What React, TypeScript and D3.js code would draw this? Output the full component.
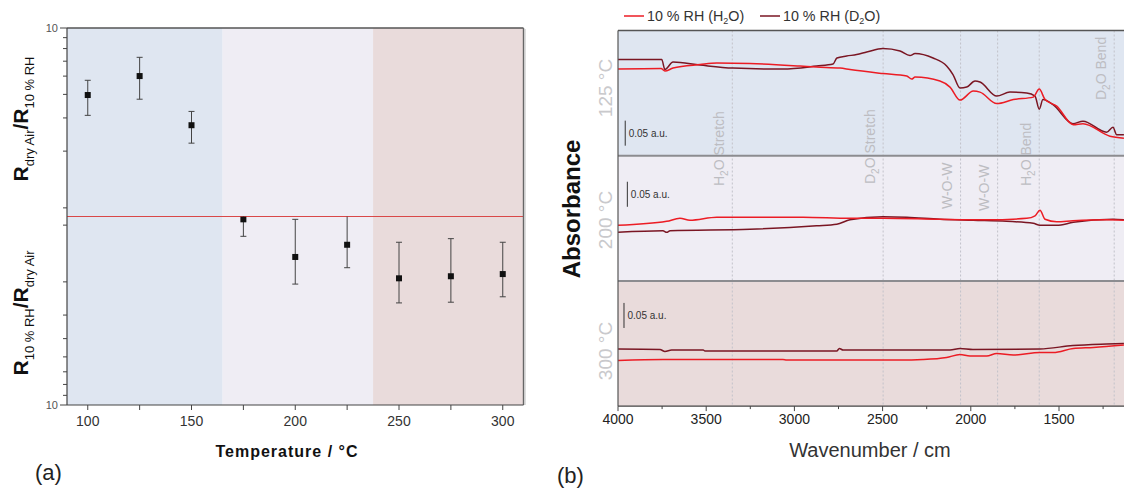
import React from "react";
import * as d3 from "d3";

// ---------- Panel (a) data ----------
const temperatures = [100, 125, 150, 175, 200, 225, 250, 275, 300];
const ratioValues = [4.41, 5.56, 3.05, 0.966, 0.61, 0.708, 0.47, 0.482, 0.495];
const ratioHigh = [5.28, 6.99, 3.61, 1.19, 0.966, 1.02, 0.73, 0.763, 0.73];
const ratioLow = [3.44, 4.19, 2.45, 0.785, 0.438, 0.535, 0.348, 0.351, 0.375];
const regionBounds = [90, 165, 237.5, 310];
const xTicksMajorA = [100, 150, 200, 250, 300];
const xTicksMinorA = [125, 175, 225, 275];
const yTickMultipliers = [1, 2, 3, 4, 5, 6, 7, 8];

// ---------- Panel (b) data ----------
const panelTemps = ["125 °C", "200 °C", "300 °C"];
const h2o125: [number, number][] = [
  [4000, 0.173], [3756, 0.174], [3734, 0.169], [3688, 0.175], [3535, 0.182], [3440, 0.185],
  [3252, 0.184], [2968, 0.179], [2874, 0.177], [2741, 0.175], [2685, 0.172], [2498, 0.164],
  [2363, 0.159], [2335, 0.153], [2316, 0.157], [2175, 0.149], [2118, 0.137], [2061, 0.111],
  [1986, 0.129], [1948, 0.127], [1853, 0.104], [1759, 0.112], [1646, 0.117], [1612, 0.133],
  [1579, 0.112], [1513, 0.099], [1419, 0.062], [1364, 0.064], [1211, 0.039], [1132, 0.035],
];
const d2o125: [number, number][] = [
  [4000, 0.192], [3752, 0.192], [3734, 0.172], [3688, 0.187], [3535, 0.181], [3348, 0.175],
  [3065, 0.173], [2874, 0.179], [2781, 0.183], [2759, 0.195], [2704, 0.199], [2647, 0.202],
  [2590, 0.207], [2498, 0.214], [2401, 0.209], [2345, 0.2], [2316, 0.204], [2214, 0.195],
  [2137, 0.179], [2101, 0.162], [2061, 0.135], [2023, 0.137], [1976, 0.149], [1948, 0.147],
  [1853, 0.119], [1778, 0.127], [1683, 0.125], [1636, 0.119], [1612, 0.093], [1591, 0.112],
  [1534, 0.102], [1421, 0.064], [1364, 0.069], [1230, 0.047], [1194, 0.057], [1173, 0.042],
  [1132, 0.042],
];
const h2o200: [number, number][] = [
  [4000, 0.111], [3724, 0.119], [3649, 0.125], [3592, 0.121], [3440, 0.127], [2951, 0.127],
  [2685, 0.125], [2498, 0.125], [2175, 0.123], [1910, 0.122], [1683, 0.125], [1636, 0.13],
  [1608, 0.141], [1579, 0.123], [1513, 0.118], [1421, 0.12], [1230, 0.122], [1132, 0.121],
];
const d2o200: [number, number][] = [
  [4000, 0.097], [3745, 0.1], [3724, 0.097], [3705, 0.1], [3252, 0.103], [2874, 0.11],
  [2760, 0.113], [2685, 0.122], [2498, 0.128], [2363, 0.127], [2175, 0.123], [1986, 0.121],
  [1797, 0.119], [1646, 0.115], [1608, 0.111], [1513, 0.111], [1419, 0.117], [1194, 0.123],
  [1132, 0.122],
];
const h2o300: [number, number][] = [
  [4000, 0.091], [3745, 0.093], [3065, 0.093], [3044, 0.092], [2401, 0.092], [2271, 0.093],
  [2137, 0.097], [2061, 0.103], [2005, 0.1], [1910, 0.1], [1853, 0.105], [1759, 0.102],
  [1608, 0.107], [1532, 0.107], [1419, 0.115], [1305, 0.117], [1132, 0.122],
];
const d2o300: [number, number][] = [
  [4000, 0.114], [3762, 0.113], [3734, 0.109], [3696, 0.112], [3517, 0.112], [3507, 0.11],
  [2760, 0.11], [2745, 0.115], [2724, 0.112], [2553, 0.112], [2118, 0.112], [2061, 0.115],
  [1988, 0.113], [1608, 0.114], [1421, 0.121], [1230, 0.124], [1132, 0.125],
];
const h2oSeries = [h2o125, h2o200, h2o300];
const d2oSeries = [d2o125, d2o200, d2o300];
const bandWavenumbers = [3352, 2497, 2058, 1848, 1612, 1187];
const bandPre = ["H", "D", "W-O-W", "W-O-W", "H", "D"];
const bandSub = ["2", "2", "", "", "2", "2"];
const bandPost = ["O Stretch", "O Stretch", "", "", "O Bend", "O Bend"];
const xTicksMajorB = [4000, 3500, 3000, 2500, 2000, 1500];
const xTicksMinorB = [3750, 3250, 2750, 2250, 1750, 1250];
const legendLabels = ["H", "D"];

// ---------- Layout / style ----------
const FONT = "Liberation Sans, Arial, Helvetica, sans-serif";
const BG = ["#dfe6f1", "#efedf4", "#e9dbdb"];
const RED = "#ec1c24";
const DARK = "#7a1623";
const A = { left: 67, right: 523.5, top: 28, bottom: 405 };
const B = { left: 618, top: 30.5, panelH: 125.2 };
const bandLabelBottom = [186, 184, 209, 211, 186, 100];
const tempLabelCenter = [88, 220, 351];
const legendX = [624, 760];
const scaleBarPos = [
  { wn: 3959, a: 0.02 },
  { wn: 3947, a: 0.148 },
  { wn: 3966, a: 0.156 },
];

export default function App() {
  // panel (a) scales
  const xA = d3.scaleLinear().domain([90, 310]).range([A.left, A.right]);
  const yA = d3.scaleLog().domain([0.1, 10]).range([A.bottom, A.top]);
  const midY = yA(1);

  // panel (b) scales
  const xB = d3.scaleLinear().domain([4000, 1000]).range([B.left, B.left + 3000 * 0.1764]);
  const panelScales = [0, 1, 2].map((i) =>
    d3
      .scaleLinear()
      .domain([0, 0.25])
      .range([B.top + (i + 1) * B.panelH, B.top + i * B.panelH])
  );
  const bBottom = B.top + 3 * B.panelH;
  const W = 1124;

  const yTicks = [
    ...yTickMultipliers.map((k) => (10 / 9) * k),
    ...yTickMultipliers.map((k) => 0.9 / k),
  ];

  return (
    <svg
      width={1124}
      height={488}
      style={{ position: "absolute", left: 0, top: 0, background: "#fff" }}
      fontFamily={FONT}
    >
      <defs>
        <clipPath id="clipTop">
          <rect x={A.left} y={A.top} width={A.right - A.left} height={midY - A.top} />
        </clipPath>
        <clipPath id="clipBottom">
          <rect x={A.left} y={midY} width={A.right - A.left} height={A.bottom - midY} />
        </clipPath>
        <clipPath id="clipB">
          <rect x={B.left} y={B.top} width={W - B.left} height={bBottom - B.top} />
        </clipPath>
      </defs>

      {/* ================= Panel (a) ================= */}
      {BG.map((c, i) => (
        <rect
          key={i}
          x={xA(regionBounds[i])}
          y={A.top}
          width={xA(regionBounds[i + 1]) - xA(regionBounds[i])}
          height={A.bottom - A.top}
          fill={c}
        />
      ))}
      <line x1={A.left} x2={A.right} y1={midY} y2={midY} stroke="#d94848" strokeWidth={1.2} />
      {/* frame */}
      <line x1={A.left} x2={A.right} y1={A.top} y2={A.top} stroke="#555" strokeWidth={1.4} />
      <line x1={A.right} x2={A.right} y1={A.top} y2={A.bottom} stroke="#666" strokeWidth={1.4} />
      <line x1={A.right + 1.5} x2={A.right + 1.5} y1={A.top + 1} y2={A.bottom} stroke="#bbb" strokeWidth={1} />
      <line x1={A.left} x2={A.left} y1={A.top} y2={A.bottom} stroke="#444" strokeWidth={1.2} />
      <line x1={A.left} x2={A.right} y1={A.bottom} y2={A.bottom} stroke="#444" strokeWidth={1.2} />
      {/* y ticks */}
      {[10, 0.1].map((v) => (
        <g key={v}>
          <line x1={A.left - 7} x2={A.left} y1={yA(v)} y2={yA(v)} stroke="#444" />
          <text x={A.left - 9} y={yA(v) + 4} fontSize={11} fill="#555" textAnchor="end">
            10
          </text>
        </g>
      ))}
      {yTicks.map((v, i) => (
        <line key={i} x1={A.left - 4} x2={A.left} y1={yA(v)} y2={yA(v)} stroke="#444" />
      ))}
      {/* x ticks */}
      {[...xTicksMajorA, ...xTicksMinorA].map((t) => (
        <line key={t} x1={xA(t)} x2={xA(t)} y1={A.bottom} y2={A.bottom + 5} stroke="#444" />
      ))}
      {xTicksMajorA.map((t) => (
        <text key={t} x={xA(t)} y={425.5} fontSize={14} fill="#333" textAnchor="middle">
          {t}
        </text>
      ))}
      {/* points & error bars */}
      {temperatures.map((t, i) => {
        const cx = xA(t);
        const clip = ratioValues[i] >= 1 ? "url(#clipTop)" : "url(#clipBottom)";
        const yh = yA(ratioHigh[i]);
        const yl = yA(ratioLow[i]);
        return (
          <g key={t} clipPath={clip}>
            <line x1={cx} x2={cx} y1={yh} y2={yl} stroke="#444" strokeWidth={1} />
            <line x1={cx - 3} x2={cx + 3} y1={yh} y2={yh} stroke="#444" strokeWidth={1} />
            <line x1={cx - 3} x2={cx + 3} y1={yl} y2={yl} stroke="#444" strokeWidth={1} />
            <rect x={cx - 3} y={yA(ratioValues[i]) - 3} width={6} height={6} fill="#111" />
          </g>
        );
      })}
      {/* axis titles */}
      <text x={287} y={457} fontSize={16} fontWeight="bold" fill="#111" textAnchor="middle" letterSpacing={1}>
        Temperature / °C
      </text>
      <text transform={`translate(28, 119) rotate(-90)`} textAnchor="middle" fill="#111">
        <tspan fontSize={21} fontWeight="bold">R</tspan>
        <tspan fontSize={13} dy={6}>dry Air</tspan>
        <tspan fontSize={21} fontWeight="bold" dy={-6}>/R</tspan>
        <tspan fontSize={13} dy={6}>10 % RH</tspan>
      </text>
      <text transform={`translate(28, 313) rotate(-90)`} textAnchor="middle" fill="#111">
        <tspan fontSize={21} fontWeight="bold">R</tspan>
        <tspan fontSize={13} dy={6}>10 % RH</tspan>
        <tspan fontSize={21} fontWeight="bold" dy={-6}>/R</tspan>
        <tspan fontSize={13} dy={6}>dry Air</tspan>
      </text>
      <text x={35} y={480} fontSize={22} fill="#222">(a)</text>

      {/* ================= Panel (b) ================= */}
      {panelScales.map((s, i) => (
        <rect
          key={i}
          x={B.left}
          y={s.range()[1]}
          width={W - B.left}
          height={B.panelH}
          fill={BG[i]}
        />
      ))}
      {/* band lines */}
      {bandWavenumbers.map((wn, i) => (
        <line
          key={i}
          x1={xB(wn)}
          x2={xB(wn)}
          y1={B.top}
          y2={bBottom}
          stroke="#c2c2ca"
          strokeWidth={1}
          strokeDasharray="2,2"
        />
      ))}
      {/* band labels */}
      {bandWavenumbers.map((wn, i) => (
        <text
          key={i}
          transform={`translate(${xB(wn) - 8.5}, ${bandLabelBottom[i]}) rotate(-90)`}
          fontSize={14}
          fill="#bdbdc2"
        >
          <tspan>{bandPre[i]}</tspan>
          {bandSub[i] && (
            <tspan fontSize={10} dy={4}>
              {bandSub[i]}
            </tspan>
          )}
          {bandPost[i] && <tspan dy={bandSub[i] ? -4 : 0}>{bandPost[i]}</tspan>}
        </text>
      ))}
      {/* separators */}
      {[1, 2].map((i) => (
        <line
          key={i}
          x1={B.left}
          x2={W}
          y1={B.top + i * B.panelH}
          y2={B.top + i * B.panelH}
          stroke="#8c8c90"
          strokeWidth={2}
        />
      ))}
      {/* temperature labels */}
      {panelTemps.map((t, i) => (
        <text
          key={t}
          transform={`translate(612, ${tempLabelCenter[i]}) rotate(-90)`}
          fontSize={19}
          fill="#c9c9cc"
          textAnchor="middle"
        >
          {t}
        </text>
      ))}
      {/* scale bars */}
      {panelScales.map((s, i) => {
        const x = xB(scaleBarPos[i].wn);
        const y0 = s(scaleBarPos[i].a);
        const y1 = s(scaleBarPos[i].a + 0.05);
        return (
          <g key={i}>
            <line x1={x} x2={x} y1={y0} y2={y1} stroke="#333" strokeWidth={1} />
            <text x={x + 3.5} y={(y0 + y1) / 2 + 3.5} fontSize={10} fill="#333">
              0.05 a.u.
            </text>
          </g>
        );
      })}
      {/* spectra */}
      <g clipPath="url(#clipB)">
        {panelScales.map((s, i) => {
          const line = d3
            .line<[number, number]>()
            .x((d) => xB(d[0]))
            .y((d) => s(d[1]))
            .curve(d3.curveMonotoneX);
          return (
            <g key={i}>
              <path d={line(d2oSeries[i]) || ""} fill="none" stroke={DARK} strokeWidth={1.5} />
              <path d={line(h2oSeries[i]) || ""} fill="none" stroke={RED} strokeWidth={1.5} />
            </g>
          );
        })}
      </g>
      {/* frame / axes */}
      <line x1={B.left} x2={W} y1={B.top} y2={B.top} stroke="#555" strokeWidth={1.4} />
      <line x1={B.left} x2={B.left} y1={B.top} y2={bBottom} stroke="#555" strokeWidth={1.2} />
      <line x1={B.left} x2={W} y1={bBottom} y2={bBottom} stroke="#444" strokeWidth={1.2} />
      {xTicksMajorB.map((t) => (
        <g key={t}>
          <line x1={xB(t)} x2={xB(t)} y1={bBottom} y2={bBottom + 5} stroke="#444" />
          <text x={xB(t)} y={424} fontSize={14} fill="#222" textAnchor="middle">
            {t}
          </text>
        </g>
      ))}
      {xTicksMinorB.map((t) => (
        <line key={t} x1={xB(t)} x2={xB(t)} y1={bBottom} y2={bBottom + 3} stroke="#444" />
      ))}
      <text x={870} y={457} fontSize={20} fill="#333" textAnchor="middle">
        Wavenumber / cm
      </text>
      <text transform={`translate(580, 209) rotate(-90)`} fontSize={24} fontWeight="bold" fill="#111" textAnchor="middle">
        Absorbance
      </text>
      <text x={557} y={483} fontSize={22} fill="#222">(b)</text>
      {/* legend */}
      {[RED, DARK].map((c, i) => {
        const x0 = legendX[i];
        return (
          <g key={i}>
            <line x1={x0} x2={x0 + 20} y1={16} y2={16} stroke={c} strokeWidth={1.5} />
            <text x={x0 + 23} y={21} fontSize={14.3} fill="#333">
              <tspan>10 % RH (</tspan>
              <tspan>{legendLabels[i]}</tspan>
              <tspan fontSize={9} dy={3}>2</tspan>
              <tspan dy={-3}>O)</tspan>
            </text>
          </g>
        );
      })}
    </svg>
  );
}
